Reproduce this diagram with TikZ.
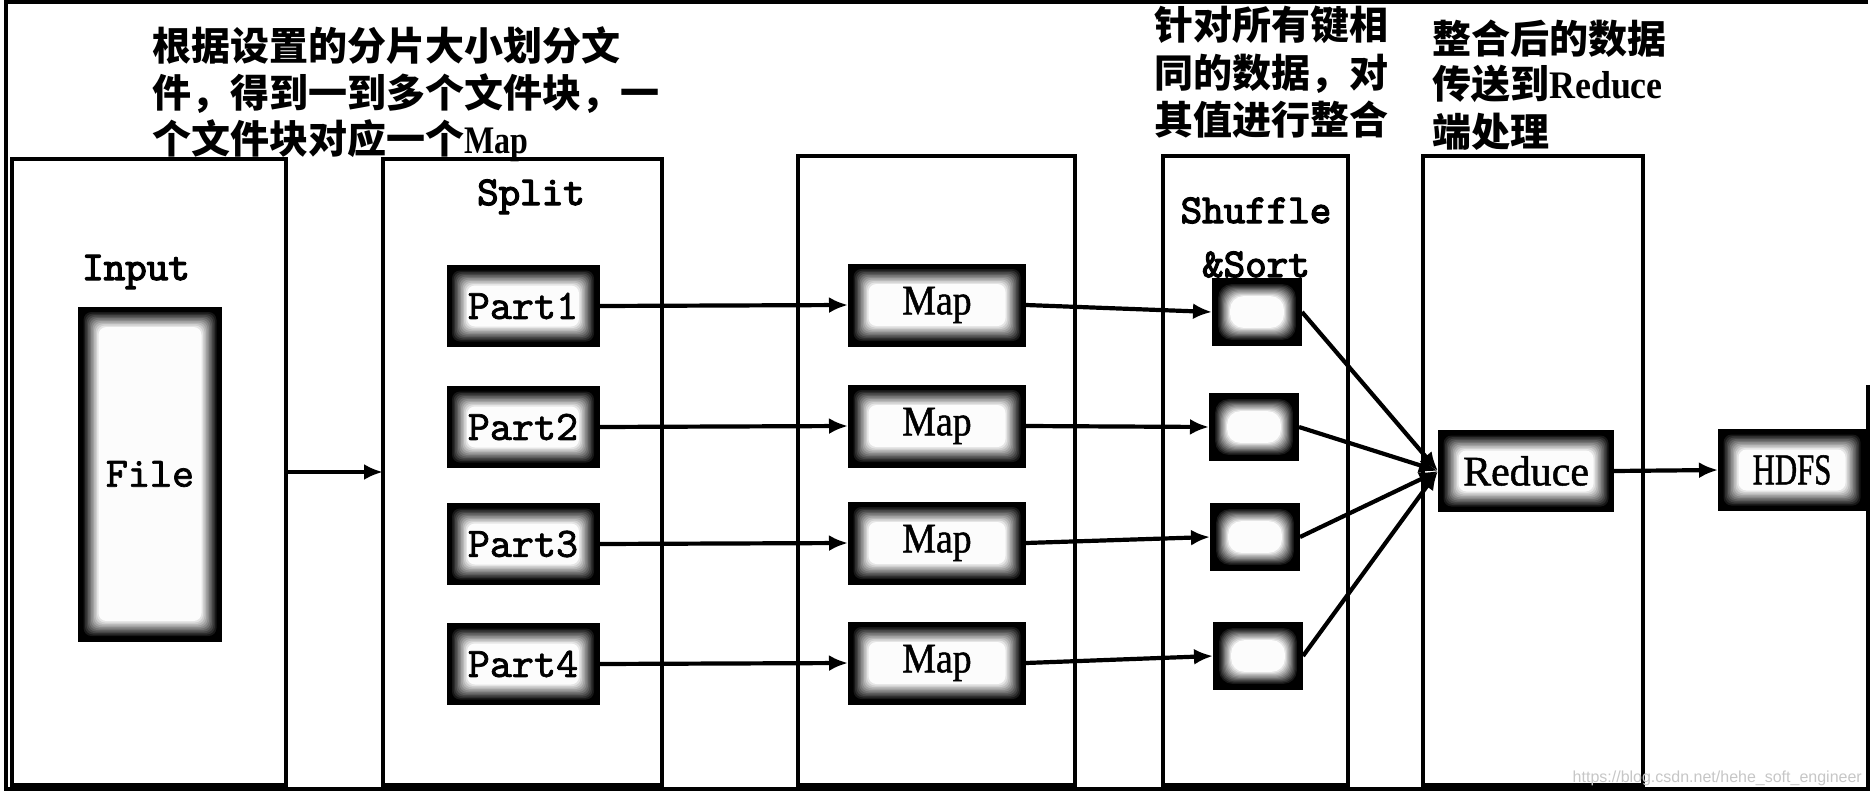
\documentclass[tikz,border=0pt]{standalone}
\usepackage{graphicx}
\usepackage{fontspec}
\newfontfamily\cjk{Noto Sans CJK SC}
\newfontfamily\lserif{Liberation Serif}
\newfontfamily\lserifb{Liberation Serif}[FakeBold=1.2]
\newfontfamily\lsans{Liberation Sans}
\newfontfamily\monoa{lmmono10-regular.otf}[FakeBold=1.6]
\newfontfamily\monob{lmmono10-regular.otf}[FakeBold=3]
\usetikzlibrary{arrows.meta}
\newcommand\latw[2]{\scalebox{#1}[1]{\lserif\bfseries #2}}
\tikzset{
  col/.style={draw, line width=3.3pt, inner sep=0pt, outer sep=0pt},
  ann/.style={anchor=base west, inner sep=0pt, font=\cjk\bfseries\fontsize{39}{46}\selectfont},
  ttl/.style={anchor=base, inner sep=0pt, font=\monob\fontsize{41}{48}\selectfont},
  glow/.style={fill=black, inner sep=0pt, outer sep=0pt, path picture={
    \foreach \k in {0,...,11}{
      \pgfmathsetmacro{\d}{#1+1.5*\k}
      \pgfmathtruncatemacro{\c}{9*\k}
      \fill[white!\c!black, rounded corners=8pt]
        ([xshift=\d pt, yshift=\d pt]path picture bounding box.south west) rectangle
        ([xshift=-\d pt, yshift=-\d pt]path picture bounding box.north east);
    }}},
  glow/.default=4,
  glowsmall/.style={fill=black, inner sep=0pt, outer sep=0pt, path picture={
    \foreach \k in {0,...,11}{
      \pgfmathsetmacro{\d}{5+1.2*\k}
      \pgfmathtruncatemacro{\c}{9*\k}
      \fill[white!\c!black, rounded corners=13pt]
        ([xshift=\d pt, yshift=\d pt]path picture bounding box.south west) rectangle
        ([xshift=-\d pt, yshift=-\d pt]path picture bounding box.north east);
    }}},
  partbox/.style={glow, minimum width=153pt, minimum height=82pt, font=\monoa\fontsize{42}{48}\selectfont},
  mapbox/.style={glow, minimum width=178pt, minimum height=83pt, font=\lserifb\fontsize{42}{48}\selectfont},
  sbox/.style={glowsmall, minimum width=90pt, minimum height=68pt},
  arr/.style={line width=4.2pt, -{Latex[length=19pt,width=16pt]}},
}
\begin{document}
\begin{tikzpicture}[x=1pt, y=-1pt]
\useasboundingbox (0,0) rectangle (1871,792);
% outer frame
\draw[line width=4.5pt] (1868,2) -- (6,2) -- (6,789) -- (1868,789) -- (1868,385);

% annotations
\node[ann] (a1) at (152,61) {根据设置的分片大小划分文};
\node[ann] (a2) at (152,107) {件，得到一到多个文件块，一};
\node[ann] (a3) at (152,153) {个文件块对应一个\latw{0.82}{Map}};
\node[ann] (b1) at (1154,40) {针对所有键相};
\node[ann] (b2) at (1154,87) {同的数据，对};
\node[ann] (b3) at (1154,134) {其值进行整合};
\node[ann] (c1) at (1432,53) {整合后的数据};
\node[ann] (c2) at (1432,99) {传送到\latw{0.92}{Reduce}};
\node[ann] (c3) at (1432,146) {端处理};

% columns
\node[col, minimum width=274pt, minimum height=626pt] (incol) at (149,472) {};
\node[col, minimum width=279pt, minimum height=626pt] (spcol) at (522.5,472) {};
\node[col, minimum width=277pt, minimum height=629pt] (mapcol) at (936.5,470.5) {};
\node[col, minimum width=185pt, minimum height=629pt] (shcol) at (1255.5,470.5) {};
\node[col, minimum width=220pt, minimum height=629pt] (redcol) at (1533,470.5) {};

% titles
\node[ttl] (tin) at (136,280) {Input};
\node[ttl] (tsp) at (531,205) {Split};
\node[ttl] (tsh) at (1256,223) {Shuffle};
\node[ttl] (tso) at (1256,277) {\&Sort};

% boxes
\node[glow=4, minimum width=144pt, minimum height=335pt, font=\monoa\fontsize{42}{48}\selectfont] (file) at (150,474) {File};
\node[partbox] (p1) at (523,306) {Part1};
\node[partbox] (p2) at (523,427) {Part2};
\node[partbox] (p3) at (523,544) {Part3};
\node[partbox] (p4) at (523,664) {Part4};
\node[mapbox] (m1) at (937,305) {\scalebox{0.9}[1]{Map}};
\node[mapbox] (m2) at (937,426) {\scalebox{0.9}[1]{Map}};
\node[mapbox] (m3) at (937,543) {\scalebox{0.9}[1]{Map}};
\node[mapbox] (m4) at (937,663) {\scalebox{0.9}[1]{Map}};
\node[sbox] (s1) at (1257,312) {};
\node[sbox] (s2) at (1254,427) {};
\node[sbox] (s3) at (1255,537) {};
\node[sbox] (s4) at (1258,656) {};
\node[glow, minimum width=176pt, minimum height=82pt, font=\lserifb\fontsize{42}{48}\selectfont] (red) at (1526,471) {Reduce};
\node[glow, minimum width=148pt, minimum height=82pt, font=\lserifb\fontsize{44}{50}\selectfont] (hdfs) at (1792,470) {\scalebox{0.7}[1]{HDFS}};

% connectors
\draw[arr] (incol.east) -- (spcol.west);
\foreach \i in {1,2,3,4}{
  \draw[arr] (p\i.east) -- (m\i.west);
  \draw[arr] (m\i.east) -- (s\i.west);
  \draw[arr] (s\i.east) -- (red.west);
}
\draw[arr] (red.east) -- (hdfs.west);

% watermark
\node[anchor=base east, inner sep=0pt, text=gray!45, font=\lsans\fontsize{16}{18}\selectfont] (wm) at (1862,782) {https://blog.csdn.net/hehe\_soft\_engineer};
\end{tikzpicture}
\end{document}
